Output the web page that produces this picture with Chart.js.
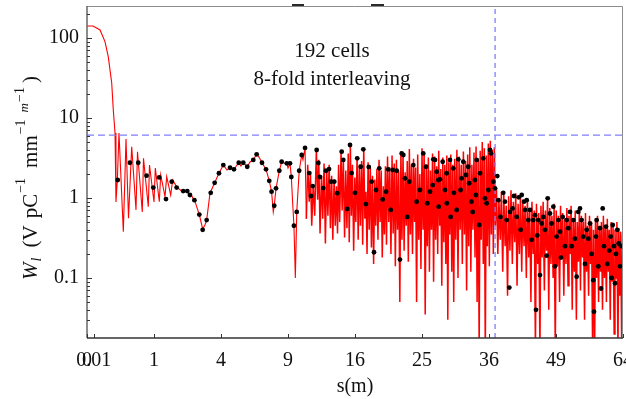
<!DOCTYPE html>
<html>
<head>
<meta charset="utf-8">
<script src="https://cdn.jsdelivr.net/npm/chart.js@4.4.1/dist/chart.umd.min.js"></script>
<style>
  html, body { margin: 0; padding: 0; background: #fff; }
  #wrap { position: relative; width: 626px; height: 399px; }
</style>
</head>
<body>
<div id="wrap"><canvas id="wake"></canvas></div>
<script>
// ── Wake data: s in m, W in V/pC/mm/m ─────────────────────────────
const xTicks  = [0, 0.01, 1, 4, 9, 16, 25, 36, 49, 64];
const yLabels = [0.1, 1, 10, 100];
const yMin = 0.0178, yMax = 251;
const cutoffW = 6.1;   // horizontal reference level
const jumpS   = 37.1;  // position of the step (m)
const denseFrom = 10.6; // beyond this the wake oscillates too fast to resolve
const noteLines = ['192 cells', '8-fold interleaving'];

// continuous wake [s, W]
const wake = [
  [0,141],[0.008,141],[0.038,126],[0.072,90],[0.101,58],[0.136,27.4],[0.154,12.6],[0.175,6.5],
  [0.187,0.89],[0.205,1.68],[0.228,6.5],[0.294,0.38],[0.339,5.47],[0.384,0.56],[0.445,4.38],
  [0.535,0.71],[0.568,3.79],[0.681,0.67],[0.711,3.13],[0.837,0.78],[0.870,2.58],[1.0,0.89],
  [1.04,2.37],[1.164,0.90],[1.21,1.94],[1.355,1.04],[1.415,1.85],[1.56,1.09],[1.636,1.68],
  [1.79,1.38],[2.0,1.22],[2.21,1.20],[2.44,1.07],[2.60,0.90],[2.81,0.62],[2.98,0.41],[3.10,0.46],
  [3.19,0.53],[3.37,1.15],[3.63,1.55],[3.88,2.04],[4.14,2.58],[4.37,2.24],[4.56,2.39],[4.81,2.28],
  [5.13,2.76],[5.28,2.51],[5.44,2.76],[5.72,2.46],[5.92,2.82],[6.16,2.99],[6.41,3.52],[6.59,3.25],
  [6.82,2.76],[7.14,2.28],[7.40,1.64],[7.59,1.20],[7.73,0.67],[7.81,0.80],[7.96,1.32],[8.24,2.19],
  [8.44,2.84],[8.65,2.74],[8.89,2.71],[9.0,2.37],[9.18,2.71],[9.30,1.83],[9.41,0.94],[9.54,0.45],
  [9.67,0.10],[9.80,0.67],[10.03,2.19],[10.27,3.45],[10.39,2.99],[10.59,4.22],
  // dense part before the step
  [10.72,0.55],[10.85,2.6],[11.0,0.9],[11.12,2.1],[11.25,0.45],[11.4,1.5],[11.55,0.6],[11.72,4.1],
  [11.85,0.95],[11.97,3.0],[12.1,0.36],[12.25,1.9],[12.38,0.55],[12.52,2.7],[12.66,0.27],[12.8,2.3],
  [12.93,0.6],[13.06,2.6],[13.2,0.42],[13.33,1.9],[13.46,0.3],[13.6,1.7],[13.73,0.45],[13.86,1.4],
  [13.98,0.36],[14.1,2.6],
  [14.22,0.5],[14.38,3.9],[14.5,0.7],[14.64,3.1],[14.78,0.32],[14.92,2.2],[15.05,0.42],[15.2,3.6],
  [15.32,0.28],[15.45,4.7],[15.57,0.6],[15.7,2.6],[15.84,0.22],[15.98,1.8],[16.1,0.5],[16.25,3.3],
  [16.38,0.3],[16.52,2.6],[16.65,0.45],[16.8,2.9],[16.93,0.26],[17.06,4.2],[17.2,0.55],[17.34,1.2],
  [17.47,0.2],[17.6,2.8],[17.74,0.4],[17.88,2.5],[18.02,0.24],[18.16,1.9],[18.3,0.15],[18.44,1.7],
  [18.58,0.45],[18.72,2.3],[18.86,0.3],[19.0,3.0],[19.14,0.5],[19.28,2.2],[19.42,0.18],[19.56,1.4],
  [19.7,0.35],[19.84,2.5],
  [19.98,0.26],[20.12,3.3],[20.28,0.5],[20.42,2.4],[20.58,0.2],[20.73,3.4],[20.88,0.36],[21.03,2.7],
  [21.18,0.14],[21.33,3.0],[21.48,0.4],[21.64,2.2],[21.8,0.05],[21.95,3.8],[22.1,0.3],[22.25,3.6],
  [22.4,0.22],[22.55,2.1],[22.7,0.45],[22.85,2.9],[23.0,0.16],[23.15,4.1],[23.3,0.35],[23.45,2.6],
  [23.6,0.2],[23.75,3.1],[23.9,0.5],[24.05,2.4],[24.2,0.05],[24.36,3.5],[24.52,0.3],[24.68,2.0],
  [24.84,0.13],[25.0,4.2],[25.16,0.4],[25.32,3.7],[25.48,0.035],[25.64,2.6],[25.8,0.25],[25.96,3.2],
  [26.12,0.12],[26.28,2.2],[26.44,0.4],[26.6,3.6],[26.76,0.09],[26.92,3.3],[27.08,0.3],[27.24,2.5],
  [27.4,0.2],[27.56,3.9],[27.72,0.45],[27.88,2.3],[28.04,0.08],[28.2,3.2],[28.36,0.28],[28.52,2.6],
  [28.68,0.15],[28.84,3.4],[29.0,0.03],[29.16,2.8],[29.32,0.35],[29.48,3.5],[29.64,0.12],[29.8,2.6],
  [29.96,0.05],[30.12,3.1],
  [30.3,0.3],[30.48,4.0],[30.66,0.1],[30.84,3.3],[31.02,0.4],[31.2,2.6],[31.38,0.15],[31.56,3.8],
  [31.74,0.35],[31.92,2.9],[32.1,0.07],[32.28,3.5],[32.46,0.25],[32.64,4.3],[32.82,0.12],[33.0,2.6],
  [33.18,0.4],[33.36,3.7],[33.54,0.18],[33.72,4.4],[33.9,0.05],[34.08,3.0],[34.26,0.012],[34.44,3.9],
  [34.62,0.3],[34.8,5.0],[34.98,0.15],[35.16,4.2],[35.34,0.01],[35.52,3.4],[35.7,0.25],[35.88,4.8],
  [36.06,0.14],[36.24,5.2],[36.42,0.35],[36.6,4.0],[36.78,0.2],[36.96,4.3],
  // after the step
  [37.15,0.45],[37.35,1.3],[37.6,0.2],[37.8,0.95],[38.05,0.3],[38.25,1.2],[38.5,0.12],[38.7,1.1],
  [38.95,0.25],[39.15,0.8],[39.4,0.06],[39.6,1.05],[39.85,0.22],[40.05,1.25],[40.3,0.15],[40.5,0.9],
  [40.75,0.28],[40.95,1.15],[41.2,0.08],[41.4,0.85],[41.65,0.2],[41.85,1.1],[42.1,0.12],[42.3,0.95],
  [42.55,0.25],[42.75,0.8],[43.0,0.1],[43.2,1.0],[43.45,0.18],[43.65,0.75],[43.9,0.05],[44.1,0.9],
  [44.35,0.2],[44.55,0.7],[44.8,0.012],[45.0,0.85],[45.25,0.15],[45.45,0.65],[45.7,0.012],[45.9,0.8],
  [46.15,0.18],[46.35,0.9],[46.6,0.07],[46.8,0.7],[47.05,0.22],[47.25,1.0],[47.5,0.04],[47.7,0.75],
  [47.95,0.15],[48.15,0.6],[48.4,0.1],[48.6,0.85],[48.85,0.012],[49.05,0.7],[49.3,0.14],[49.5,0.6],
  [49.75,0.05],[49.95,0.8],[50.2,0.18],[50.4,0.65],[50.65,0.06],[50.85,0.55],[51.1,0.15],[51.3,0.75],
  [51.55,0.08],[51.75,0.6],[52.0,0.2],[52.2,0.8],[52.45,0.04],[52.65,0.55],[52.9,0.12],[53.1,0.7],
  [53.35,0.03],[53.55,0.5],[53.8,0.16],[54.0,0.75],[54.25,0.07],[54.45,0.6],[54.7,0.18],[54.9,0.5],
  [55.15,0.03],[55.35,0.65],[55.6,0.12],[55.8,0.45],[56.05,0.06],[56.25,0.6],[56.5,0.15],[56.7,0.5],
  [56.95,0.012],[57.15,0.4],[57.4,0.01],[57.6,0.55],[57.85,0.1],[58.05,0.6],[58.3,0.05],[58.5,0.45],
  [58.75,0.12],[58.95,0.5],[59.2,0.04],[59.4,0.6],[59.65,0.1],[59.85,0.45],[60.1,0.05],[60.3,0.55],
  [60.55,0.12],[60.75,0.4],[61.0,0.03],[61.2,0.5],[61.45,0.09],[61.65,0.45],[61.9,0.02],[62.1,0.4],
  [62.35,0.1],[62.55,0.5],[62.8,0.012],[63.0,0.42],[63.25,0.06],[63.45,0.38],[63.7,0.012],[63.9,0.35]
];

// sampled points [s, W]
const samples = [
  [0.21,1.68],[0.41,2.76],[0.585,2.76],[0.79,1.90],[0.98,1.35],[1.16,1.81],[1.39,0.97],[1.60,1.60],
  [1.79,1.35],[2.06,1.22],[2.24,1.22],[2.36,1.09],[2.57,0.94],[2.81,0.62],[2.98,0.40],[3.19,0.53],
  [3.41,1.16],[3.63,1.55],[3.88,2.04],[4.14,2.58],[4.56,2.39],[4.81,2.28],[5.13,2.76],[5.44,2.76],
  [5.72,2.46],[6.16,2.99],[6.41,3.52],[6.82,2.76],[7.14,2.28],[7.40,1.64],[7.59,1.20],[7.81,0.80],
  [7.96,1.32],[8.24,2.19],[8.44,2.84],[8.89,2.71],[9.18,2.71],[9.30,1.83],[9.54,0.45],[9.80,0.67],
  [10.03,2.19],[10.27,3.45],[10.59,4.22],[11.01,2.05],[11.18,1.06],[11.35,1.41],[11.75,3.98],[11.92,2.74],
  [12.09,1.83],[12.44,1.33],[12.72,2.19],[13.05,2.30],[13.26,1.60],[13.62,1.60],[13.95,1.15],[14.45,3.79],
  [14.63,2.99],[15.08,0.73],[15.41,4.60],[15.60,2.05],[16.0,1.16],[16.27,3.13],[16.69,2.46],[17.01,4.06],
  [17.34,0.84],[17.68,2.44],[18.05,1.60],[18.35,0.21],[18.60,1.26],[19.03,2.35],[19.48,0.96],[19.92,1.20],
  [20.21,2.28],[20.55,0.71],[20.82,2.24],[21.37,2.19],[21.82,0.17],[22.06,3.61],[22.29,3.45],[22.53,1.76],
  [22.85,0.58],[23.14,1.60],[23.72,2.58],[24.21,0.90],[24.70,1.26],[25.19,3.61],[25.60,2.46],[25.80,0.86],
  [26.21,1.20],[26.62,1.45],[26.72,3.04],[26.98,2.99],[27.24,2.13],[27.50,1.68],[27.55,0.78],[27.76,1.71],
  [28.18,2.84],[28.55,1.26],[28.82,2.04],[28.85,0.86],[29.35,2.99],[29.46,0.58],[29.89,2.35],[30.00,1.16],
  [30.44,0.71],[30.71,3.04],[31.09,1.26],[31.27,1.76],[31.54,2.84],[32.0,1.94],[32.37,2.46],[32.54,1.53],
  [32.93,0.90],[33.14,0.67],[33.54,1.68],[33.71,1.09],[33.83,2.99],[34.28,0.46],[34.41,2.04],[34.98,3.13],
  [35.29,0.99],[35.58,0.86],[35.88,1.26],[36.18,3.98],[36.36,3.61],[36.78,1.60],[37.09,1.32],[37.50,1.88],
  [37.70,0.94],[38.10,0.58],[38.60,1.16],[38.92,0.90],[39.24,0.53],[39.73,0.076],[39.86,0.67],[40.35,0.74],
  [40.62,1.06],[41.13,0.58],[41.50,1.02],[41.90,0.40],[42.10,1.09],[42.54,0.90],[42.74,0.71],[43.07,0.94],
  [43.39,0.53],[43.72,0.71],[44.05,0.30],[44.38,0.53],[44.71,0.61],[44.91,0.040],[45.17,0.34],[45.37,0.53],
  [45.71,0.109],[46.05,0.48],[46.39,0.58],[46.73,0.40],[47.07,0.19],[47.28,0.99],[47.75,0.64],[48.10,0.48],
  [48.45,0.78],[48.79,0.14],[49.14,0.33],[49.49,0.53],[49.84,0.38],[50.05,0.18],[50.41,0.58],[50.90,0.25],
  [51.26,0.53],[51.61,0.42],[51.97,0.67],[52.33,0.25],[52.69,0.53],[53.05,0.31],[53.41,0.104],[53.77,0.67],
  [54.14,0.74],[54.51,0.53],[54.87,0.33],[55.24,0.15],[55.62,0.40],[55.99,0.31],[56.36,0.48],[56.73,0.20],
  [57.11,0.094],[57.26,0.038],[57.71,0.33],[57.86,0.53],[58.24,0.14],[58.63,0.42],[58.86,0.074],[59.24,0.74],
  [59.54,0.25],[60.00,0.44],[60.31,0.15],[60.78,0.22],[61.10,0.33],[61.33,0.10],[61.57,0.46],[61.87,0.25],
  [62.11,0.086],[62.34,0.20],[62.65,0.40],[62.98,0.27],[63.29,0.14],[63.60,0.25]
];

const SERIF = '"Liberation Serif", "Times New Roman", serif';
const INK = '#111';

// ── square-root axis for s ───────────────────────────────────────
class SqrtScale extends Chart.LinearScale {
  buildTicks() {
    return xTicks.map(v => ({ value: v }));
  }
  configure() {
    super.configure();
    this._rootMin = Math.sqrt(this.min);
    this._rootRange = Math.sqrt(this.max) - this._rootMin;
  }
  getPixelForValue(value) {
    return this.getPixelForDecimal((Math.sqrt(value) - this._rootMin) / this._rootRange);
  }
  getValueForPixel(pixel) {
    const r = this._rootMin + this.getDecimalForPixel(pixel) * this._rootRange;
    return r * r;
  }
}
SqrtScale.id = 'sqrt';
SqrtScale.defaults = {};
Chart.register(SqrtScale);

// y title with italics, subscripts and superscripts (gap = space before the piece)
function drawYTitle(ctx, cx, cy) {
  const parts = [
    { t: 'W', size: 21, italic: true, rise: 0, gap: 0 },
    { t: 'l', size: 14, italic: true, rise: -4, gap: 1 },
    { t: '(V', size: 21, rise: 0, gap: 10 },
    { t: 'pC', size: 21, rise: 0, gap: 7 },
    { t: '\u22121', size: 14, rise: 12, gap: 1 },
    { t: 'mm', size: 21, rise: 0, gap: 10 },
    { t: '\u22121', size: 14, rise: 12, gap: 1 },
    { t: 'm', size: 13, italic: true, rise: 9, gap: 7 },
    { t: '\u22121', size: 14, rise: 13, gap: 1 },
    { t: ')', size: 21, rise: 0, gap: 4 }
  ];
  const fontOf = p => `${p.italic ? 'italic ' : ''}${p.size}px ${SERIF}`;
  let total = 0;
  parts.forEach(p => { ctx.font = fontOf(p); p.w = ctx.measureText(p.t).width; total += p.gap + p.w; });
  ctx.save();
  ctx.translate(cx, cy);
  ctx.rotate(-Math.PI / 2);
  ctx.fillStyle = INK;
  ctx.textAlign = 'left';
  ctx.textBaseline = 'alphabetic';
  let pos = -total / 2;
  parts.forEach(p => {
    pos += p.gap;
    ctx.font = fontOf(p);
    ctx.fillText(p.t, pos, -p.rise);
    pos += p.w;
  });
  ctx.restore();
}

const decor = {
  id: 'decor',
  afterDraw(chart) {
    const { ctx, chartArea: a, scales: { x, y } } = chart;
    ctx.save();

    // frame: light top/right, darker axes
    ctx.lineWidth = 1;
    ctx.strokeStyle = '#8c8c8c';
    ctx.beginPath();
    ctx.moveTo(a.left, a.top + 0.5);
    ctx.lineTo(a.right - 0.5, a.top + 0.5);
    ctx.lineTo(a.right - 0.5, a.bottom);
    ctx.stroke();
    ctx.lineWidth = 1.5;
    ctx.strokeStyle = '#666';
    ctx.beginPath();
    ctx.moveTo(a.left, a.top);
    ctx.lineTo(a.left, a.bottom);
    ctx.stroke();
    ctx.strokeStyle = '#333';
    ctx.beginPath();
    ctx.moveTo(a.left, a.bottom);
    ctx.lineTo(a.right, a.bottom);
    ctx.stroke();

    // inward ticks
    ctx.lineWidth = 1;
    ctx.strokeStyle = '#333';
    ctx.beginPath();
    y.ticks.forEach(t => {
      const v = t.value;
      if (v <= yMin || v >= yMax) return;
      const e = Math.floor(Math.log10(v) + 1e-9);
      const m = v / Math.pow(10, e);
      if (Math.abs(m - Math.round(m)) > 1e-6) return;
      const py = Math.round(y.getPixelForValue(v)) + 0.5;
      ctx.moveTo(a.left, py);
      ctx.lineTo(a.left + (Math.round(m) === 1 ? 5 : 3), py);
    });
    xTicks.forEach(v => {
      const px = Math.round(x.getPixelForValue(v)) + 0.5;
      ctx.moveTo(px, a.bottom);
      ctx.lineTo(px, a.bottom - 4);
    });
    ctx.stroke();

    // small marks sitting on the top edge
    ctx.lineWidth = 2;
    ctx.strokeStyle = '#2a2a2a';
    ctx.beginPath();
    ctx.moveTo(292, 5); ctx.lineTo(304, 5);
    ctx.moveTo(371, 5); ctx.lineTo(384, 5);
    ctx.stroke();

    // annotation
    ctx.fillStyle = INK;
    ctx.font = `21px ${SERIF}`;
    ctx.textAlign = 'center';
    ctx.textBaseline = 'middle';
    const nx = a.left + 0.457 * (a.right - a.left);
    ctx.fillText(noteLines[0], nx, a.top + 45);
    ctx.fillText(noteLines[1], nx, a.top + 73);

    drawYTitle(ctx, 37, (a.top + a.bottom) / 2 + 6);
    ctx.restore();
  }
};

new Chart(document.getElementById('wake'), {
  type: 'scatter',
  data: {
    datasets: [
      { label: 'samples', data: samples.map(p => ({ x: p[0], y: p[1] })), order: 0,
        pointRadius: 2.4, pointBackgroundColor: '#000', pointBorderWidth: 0, showLine: false },
      { label: 'level', data: [{ x: 0, y: cutoffW }, { x: 64, y: cutoffW }], order: 1,
        showLine: true, borderColor: '#7f7fff', borderWidth: 1.3, borderDash: [7, 4], pointRadius: 0 },
      { label: 'step', data: [{ x: jumpS, y: yMin }, { x: jumpS, y: yMax }], order: 2,
        showLine: true, borderColor: '#7f7fff', borderWidth: 1.3, borderDash: [5, 4], pointRadius: 0 },
      { label: 'wake', data: wake.map(p => ({ x: p[0], y: p[1] })), order: 3,
        showLine: true, borderColor: '#ff0000', borderWidth: 1.5, pointRadius: 0, tension: 0,
        // thinner stroke where the curve is still smooth
        segment: { borderWidth: c => c.p0.parsed.x < denseFrom ? 1.1 : 1.5 } }
    ]
  },
  options: {
    responsive: true,
    maintainAspectRatio: false,
    animation: false,
    layout: { padding: { top: 6, right: 3, left: 0, bottom: 0 }, autoPadding: false },
    plugins: { legend: { display: false }, tooltip: { enabled: false } },
    scales: {
      x: {
        type: 'sqrt', min: 0, max: 64,
        grid: { display: false, drawTicks: false },
        border: { display: false },
        ticks: { autoSkip: false, maxRotation: 0, padding: 11, color: INK,
          font: { family: SERIF, size: 20 }, callback: v => String(v) },
        title: { display: true, text: 's(m)', color: INK,
          font: { family: SERIF, size: 20 }, padding: { top: 0, bottom: 0 } },
        afterFit: s => { s.height = 61; s.paddingLeft = 0; s.paddingRight = 0; }
      },
      y: {
        type: 'logarithmic', min: yMin, max: yMax,
        grid: { display: false, drawTicks: false },
        border: { display: false },
        ticks: { autoSkip: false, padding: 8, color: INK,
          font: { family: SERIF, size: 20 },
          callback: v => yLabels.includes(v) ? String(v) : '' },
        afterFit: s => { s.width = 87; s.paddingTop = 0; s.paddingBottom = 0; }
      }
    }
  },
  plugins: [decor]
});
</script>
</body>
</html>
